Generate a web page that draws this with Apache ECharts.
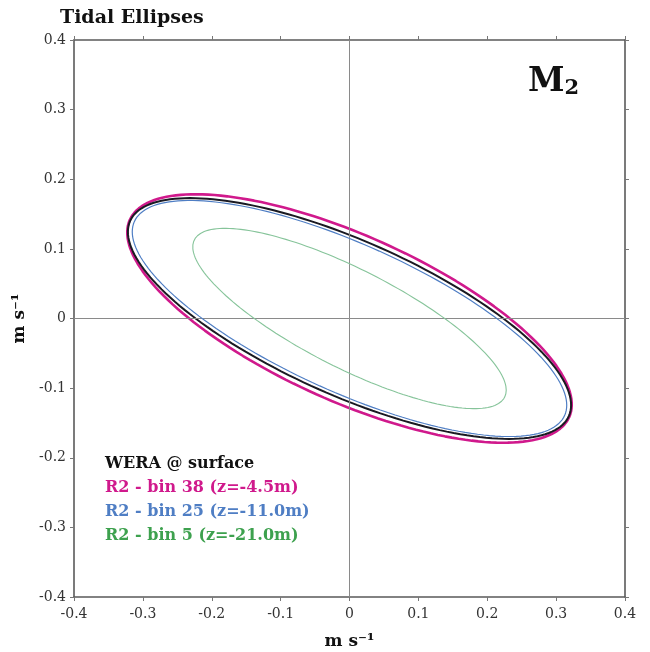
<!DOCTYPE html>
<html><head><meta charset="utf-8">
<script src="https://cdn.jsdelivr.net/npm/echarts@6/dist/echarts.min.js"></script>
<style>html,body{margin:0;padding:0;background:#fff}#c{width:650px;height:652px}</style>
</head><body><div id="c"></div>
<script>
// Tidal ellipse parameters (m/s, degrees)
var seriesNames = ['WERA @ surface', 'R2 - bin 38 (z=-4.5m)', 'R2 - bin 25 (z=-11.0m)', 'R2 - bin 5 (z=-21.0m)'];
var semiMajor   = [0.348, 0.349, 0.342, 0.252];
var semiMinor   = [0.111, 0.119, 0.106, 0.071];
var inclination = [-23.7, -23.9, -24.0, -26.6];
var lineColors  = ['#1a1a22', '#d0198c', '#4f7ec4', '#86c49a'];
var textColors  = ['#111111', '#d0198c', '#4f7ec4', '#3da14e'];
var lineWidths  = [2, 2.6, 1.2, 1.1];
var tickValues  = [-0.4, -0.3, -0.2, -0.1, 0, 0.1, 0.2, 0.3, 0.4];

function ellipsePoints(a, b, incDeg) {
  var t = incDeg * Math.PI / 180, pts = [];
  for (var i = 0; i <= 360; i += 2) {
    var p = i * Math.PI / 180;
    var u = a * Math.cos(p), v = b * Math.sin(p);
    pts.push([u * Math.cos(t) - v * Math.sin(t), u * Math.sin(t) + v * Math.cos(t)]);
  }
  return pts;
}
function fmt(v){ return v === 0 ? '0' : String(v); }

var font = 'DejaVu Serif';
var chart = echarts.init(document.getElementById('c'));
var zOrder = [4, 3, 5, 5];
var series = seriesNames.map(function (n, i) {
  return {
    name: n, type: 'line', data: ellipsePoints(semiMajor[i], semiMinor[i], inclination[i]),
    showSymbol: false, symbol: 'none', z: zOrder[i],
    lineStyle: { color: lineColors[i], width: lineWidths[i] }, itemStyle: { color: lineColors[i] }
  };
});
series.push({
  type: 'line', data: [], silent: true, z: 1,
  markLine: { silent: true, symbol: 'none', label: { show: false },
    lineStyle: { color: '#8a8a8a', width: 1, type: 'solid' },
    data: [{ xAxis: 0 }, { yAxis: 0 }] }
});

var axisCommon = {
  type: 'value', min: -0.4, max: 0.4, interval: 0.1,
  axisLine: { show: true, onZero: false, lineStyle: { color: '#5a5a5a', width: 1.6 } },
  axisTick: { show: true, inside: false, length: 4, lineStyle: { color: '#777', width: 1 } },
  splitLine: { show: false }
};
var labelStyle = { color: '#333', fontFamily: font, fontSize: 14, formatter: fmt };

chart.setOption({
  animation: false,
  backgroundColor: '#fff',
  grid: { left: 74, right: 25, top: 40, bottom: 55, containLabel: false, outerBoundsMode: 'none' },
  title: { text: 'Tidal Ellipses', left: 55, top: 4,
    textStyle: { fontFamily: font, fontWeight: 'bold', fontSize: 19, color: '#111' } },
  legend: {
    orient: 'vertical', left: 95, top: 451, itemWidth: 0, itemHeight: 0, itemGap: 8,
    icon: 'rect', selectedMode: false,
    data: seriesNames.map(function (n, i) {
      return { name: n, textStyle: { color: textColors[i], fontFamily: font, fontWeight: 'bold', fontSize: 16 } };
    })
  },
  xAxis: [
    Object.assign({}, axisCommon, { position: 'bottom',
      axisLabel: Object.assign({ margin: 10 }, labelStyle),
      name: 'm s⁻¹', nameLocation: 'middle', nameGap: 36,
      nameTextStyle: { fontFamily: font, fontWeight: 'bold', fontSize: 17, color: '#111' } }),
    Object.assign({}, axisCommon, { position: 'top', axisLabel: { show: false } })
  ],
  yAxis: [
    Object.assign({}, axisCommon, { position: 'left',
      axisLabel: Object.assign({ margin: 8 }, labelStyle),
      name: 'm s⁻¹', nameLocation: 'middle', nameGap: 42, nameRotate: 90,
      nameTextStyle: { fontFamily: font, fontWeight: 'bold', fontSize: 17, color: '#111' } }),
    Object.assign({}, axisCommon, { position: 'right', axisLabel: { show: false } })
  ],
  graphic: [{
    type: 'text', left: 528, top: 66, z: 10,
    style: { text: '{m|M}{s|2}', rich: {
      m: { fontFamily: font, fontWeight: 'bold', fontSize: 33, fill: '#111', verticalAlign: 'bottom' },
      s: { fontFamily: font, fontWeight: 'bold', fontSize: 21, fill: '#111', padding: [12, 0, 0, 0], verticalAlign: 'bottom' }
    } }
  }],
  series: series
});
</script></body></html>
